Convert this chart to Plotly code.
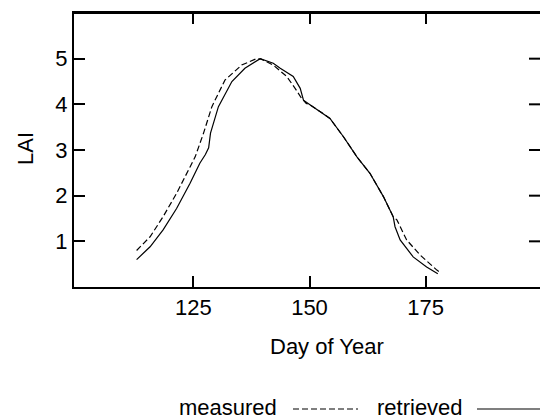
import plotly.graph_objects as go

# measured LAI (dashed)
meas_day = [112.8, 115.7, 118.5, 121.4, 124.3, 125.4, 127.2, 129.0, 131.8, 135.4,
            138.6, 139.6, 142.2, 145.1, 146.9, 148.3, 149.3, 150.1, 152.6, 154.4,
            157.3, 160.2, 163.0, 165.9, 168.0, 168.8, 170.9, 173.8, 177.4, 178.0]
meas_lai = [0.80, 1.10, 1.54, 2.05, 2.63, 2.85, 3.37, 3.95, 4.53, 4.86,
            5.00, 4.99, 4.86, 4.61, 4.35, 4.13, 4.02, 3.99, 3.82, 3.69,
            3.29, 2.85, 2.49, 1.98, 1.54, 1.47, 1.03, 0.70, 0.37, 0.33]

# retrieved LAI (solid)
retr_day = [112.8, 115.7, 118.5, 121.4, 124.3, 126.4, 127.6, 128.3, 128.7, 130.4,
            133.3, 136.1, 139.4, 142.2, 143.7, 146.5, 148.0, 148.7, 150.1, 152.6,
            154.4, 157.3, 160.2, 163.0, 165.9, 168.0, 168.4, 169.5, 172.3, 175.2,
            177.6]
retr_lai = [0.60, 0.88, 1.25, 1.72, 2.27, 2.71, 2.90, 3.05, 3.37, 3.95,
            4.50, 4.79, 5.00, 4.90, 4.79, 4.61, 4.35, 4.09, 3.99, 3.82,
            3.69, 3.29, 2.85, 2.49, 1.98, 1.54, 1.32, 1.03, 0.66, 0.44,
            0.29]

x_ticks = [125, 150, 175]
y_ticks = [1, 2, 3, 4, 5]
x_range = [99.33, 199.59]
y_range = [0, 6]

TXT = dict(family="Liberation Sans", size=22, color="black")
L, T, B = 74, 13, 133
W, H = 540, 420
PW = W - L
PH = H - T - B
TICKLEN = 11

def px2paper(px, py):
    return (px - L) / PW, (H - B - py) / PH

fig = go.Figure()
fig.add_trace(go.Scatter(x=meas_day, y=meas_lai, mode="lines", showlegend=False,
                         line=dict(color="black", width=1.2, dash="6px,3px")))
fig.add_trace(go.Scatter(x=retr_day, y=retr_lai, mode="lines", showlegend=False,
                         line=dict(color="black", width=1.2)))

fig.update_layout(
    width=W, height=H,
    margin=dict(l=L, r=0, t=T, b=B),
    plot_bgcolor="white",
    xaxis=dict(range=x_range, tickvals=x_ticks, showline=True, linewidth=2,
               linecolor="black", mirror="ticks", ticks="inside", ticklen=TICKLEN,
               tickwidth=2, tickcolor="black", showgrid=False, zeroline=False,
               tickfont=TXT),
    yaxis=dict(range=y_range, tickvals=y_ticks, showline=True, linewidth=2,
               linecolor="black", ticks="inside", ticklen=TICKLEN,
               tickwidth=2, tickcolor="black", showgrid=False, zeroline=False,
               tickfont=TXT),
)

# top frame edge (in case the mirrored line is not drawn)
fig.add_shape(type="line", xref="paper", yref="paper", x0=0, x1=1, y0=1, y1=1,
              line=dict(color="black", width=2))
# right-side inward ticks (the right frame edge lies just outside the picture)
for tv in y_ticks:
    fig.add_shape(type="line", xref="paper", yref="y", x0=1 - TICKLEN / PW, x1=1.01,
                  y0=tv, y1=tv, line=dict(color="black", width=2))

annots = []
x, y = px2paper(25, 149)
annots.append(dict(text="LAI", x=x, y=y, xref="paper", yref="paper", showarrow=False,
                   textangle=-90, xanchor="center", yanchor="middle", font=TXT))
x, y = px2paper(327, 346)
annots.append(dict(text="Day of Year", x=x, y=y, xref="paper", yref="paper", showarrow=False,
                   xanchor="center", yanchor="middle", font=TXT))
x, y = px2paper(279, 407)
annots.append(dict(text="measured", x=x, y=y, xref="paper", yref="paper", showarrow=False,
                   xanchor="right", yanchor="middle", font=TXT))
x, y = px2paper(375, 407)
annots.append(dict(text="retrieved", x=x, y=y, xref="paper", yref="paper", showarrow=False,
                   xanchor="left", yanchor="middle", font=TXT))
fig.update_layout(annotations=annots)

x0, yl = px2paper(293, 409)
x1, _ = px2paper(358, 409)
fig.add_shape(type="line", xref="paper", yref="paper", x0=x0, x1=x1, y0=yl, y1=yl,
              line=dict(color="black", width=1.2, dash="6px,3px"))
x0, _ = px2paper(477, 409)
x1, _ = px2paper(540, 409)
fig.add_shape(type="line", xref="paper", yref="paper", x0=x0, x1=x1, y0=yl, y1=yl,
              line=dict(color="black", width=1.2))

fig.write_html("out.html")
